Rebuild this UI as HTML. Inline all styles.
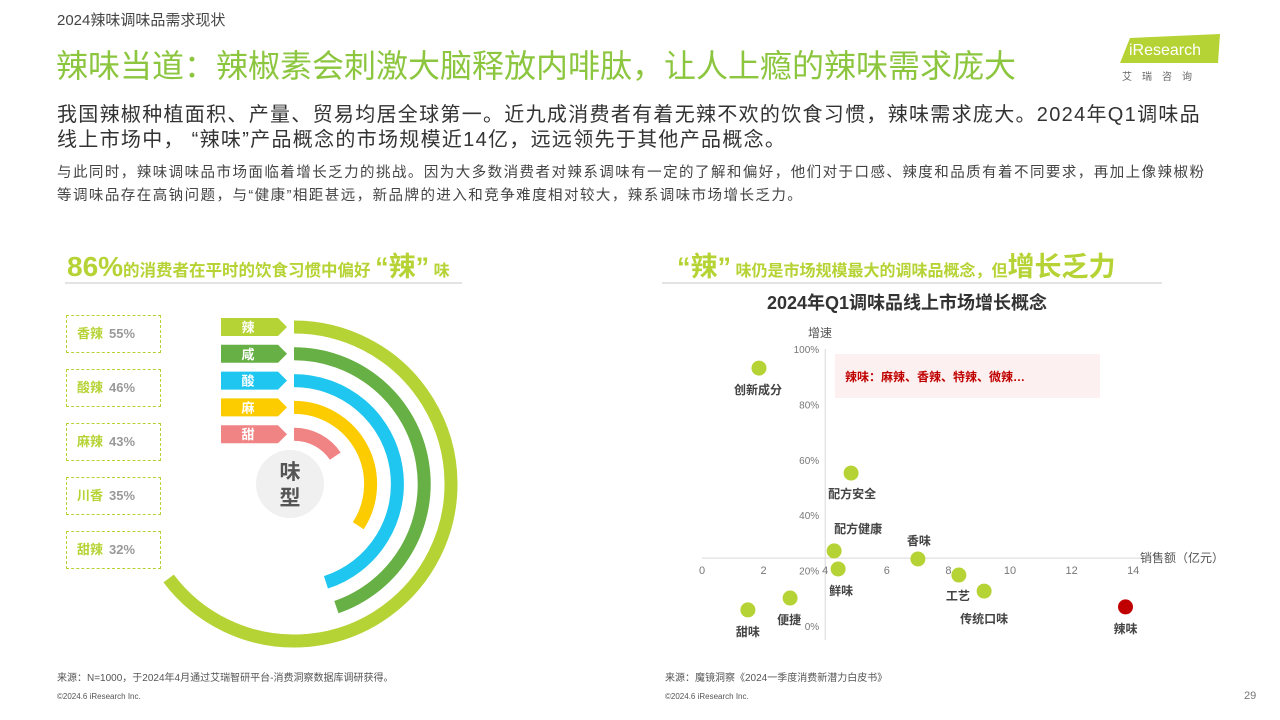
<!DOCTYPE html>
<html><head><meta charset="utf-8">
<style>
*{margin:0;padding:0;box-sizing:border-box}
body{width:1280px;height:720px;background:#fff;position:relative;overflow:hidden;font-family:"Liberation Sans","Noto Sans CJK SC",sans-serif;color:#333}
.a{position:absolute;white-space:nowrap}
.box{position:absolute;left:66px;width:95px;height:38px;border:1.5px dashed #b5d334;font-size:13px;font-weight:bold;line-height:35px;padding-left:10px}
.box .n{color:#b5d334}.box .v{color:#999;margin-left:6px}
</style></head><body>
<div class="a" style="left:57px;top:9px;font-size:15px;color:#444">2024辣味调味品需求现状</div>
<div class="a" style="left:56px;top:41px;font-size:32px;color:#8cc63f;letter-spacing:0px">辣味当道：辣椒素会刺激大脑释放内啡肽，让人上瘾的辣味需求庞大</div>
<div style="position:absolute;left:1120px;top:34px;width:100px;height:29px">
<svg width="100" height="29"><polygon points="10,4 100,0 98,29 0,29" fill="#b5d334"/><text x="9" y="21" font-size="16" fill="#fff" font-family="Liberation Sans">iResearch</text></svg></div>
<div class="a" style="left:1122px;top:68px;font-size:10px;color:#666;letter-spacing:10px">艾瑞咨询</div>
<div class="a" style="left:57px;top:103px;font-size:20px;line-height:25px;color:#333;letter-spacing:1.3px">我国辣椒种植面积、产量、贸易均居全球第一。近九成消费者有着无辣不欢的饮食习惯，辣味需求庞大。2024年Q1调味品<br>线上市场中，&nbsp;“辣味”产品概念的市场规模近14亿，远远领先于其他产品概念。</div>
<div class="a" style="left:57px;top:162px;font-size:14.5px;line-height:23px;color:#444;letter-spacing:1.45px">与此同时，辣味调味品市场面临着增长乏力的挑战。因为大多数消费者对辣系调味有一定的了解和偏好，他们对于口感、辣度和品质有着不同要求，再加上像辣椒粉<br>等调味品存在高钠问题，与“健康”相距甚远，新品牌的进入和竞争难度相对较大，辣系调味市场增长乏力。</div>

<div class="a" style="left:67px;top:245px;color:#b5d334;font-weight:bold"><span style="font-size:28px">86%</span><span style="font-size:16.5px">的消费者在平时的饮食习惯中偏好 </span><span style="font-size:27px">“辣”</span><span style="font-size:16px"> 味</span></div>
<div class="a" style="left:65px;top:282px;width:397px;height:2px;background:#e3e3e3"></div>
<div class="a" style="left:677px;top:245px;color:#b5d334;font-weight:bold"><span style="font-size:27px">“辣”</span><span style="font-size:16px"> 味仍是市场规模最大的调味品概念，但</span><span style="font-size:27px">增长乏力</span></div>
<div class="a" style="left:662px;top:282px;width:500px;height:2px;background:#e3e3e3"></div>

<div class="box" style="top:315px"><span class="n">香辣</span><span class="v">55%</span></div>
<div class="box" style="top:369px"><span class="n">酸辣</span><span class="v">46%</span></div>
<div class="box" style="top:423px"><span class="n">麻辣</span><span class="v">43%</span></div>
<div class="box" style="top:477px"><span class="n">川香</span><span class="v">35%</span></div>
<div class="box" style="top:531px"><span class="n">甜辣</span><span class="v">32%</span></div>

<svg id="radial" style="position:absolute;left:0;top:0" width="640" height="660"></svg>

<div class="a" style="left:767px;top:289px;font-size:18px;font-weight:bold;color:#333">2024年Q1调味品线上市场增长概念</div>
<svg id="scatter" style="position:absolute;left:0;top:0" width="1280" height="720"></svg>

<div class="a" style="left:57px;top:669px;font-size:10px;color:#555">来源：N=1000，于2024年4月通过艾瑞智研平台-消费洞察数据库调研获得。</div>
<div class="a" style="left:665px;top:669px;font-size:10px;color:#555">来源：魔镜洞察《2024一季度消费新潜力白皮书》</div>
<div class="a" style="left:57px;top:692px;font-size:8px;color:#555">©2024.6 iResearch Inc.</div>
<div class="a" style="left:665px;top:692px;font-size:8px;color:#555">©2024.6 iResearch Inc.</div>
<div class="a" style="left:1244px;top:690px;font-size:11px;color:#777">29</div>

<script>
// Radial flavor chart data
const flavors = ["辣","咸","酸","麻","甜"];
const sweepDeg = [233,161,162,123,56];
const colors = ["#b5d334","#66b045","#1fc6ef","#fccc00","#f08484"];
const NS="http://www.w3.org/2000/svg";
const rs=document.getElementById('radial');
const cx=290,cy=484,r0=157,dr=26.8,sw=13;
function mk(t,a,p){const e=document.createElementNS(NS,t);for(const k in a)e.setAttribute(k,a[k]);(p||rs).appendChild(e);return e;}
flavors.forEach((f,i)=>{
  const r=r0-i*dr, a=sweepDeg[i]*Math.PI/180;
  const x0=cx+4, y0=cy-r, x1=cx+4+r*Math.sin(a), y1=cy-r*Math.cos(a);
  const p=mk('path',{d:`M${x0},${y0} A${r},${r} 0 ${sweepDeg[i]>180?1:0} 1 ${x1},${y1}`,fill:'none',stroke:colors[i],'stroke-width':sw});
  
  
  const ty=y0-9;
  const tag=mk('polygon',{points:`221,${ty} 278,${ty} 287,${ty+9} 278,${ty+18} 221,${ty+18}`,fill:colors[i]});
  
  
  const t=mk('text',{x:248,y:ty+14,'text-anchor':'middle','font-size':13,'font-weight':'bold',fill:'#fff'});
  t.textContent=f;
  
  
});
const c=mk('circle',{cx:cx,cy:cy,r:34,fill:'#f0f0f0'});


["味","型"].forEach((ch,i)=>{const t=mk('text',{x:cx,y:cy-5+i*26,'text-anchor':'middle','font-size':21,'font-weight':'bold',fill:'#555'});t.textContent=ch;

});

// Scatter data
const names=["创新成分","配方安全","配方健康","香味","鲜味","工艺","传统口味","便捷","甜味","辣味"];
const sales=[1.85,4.84,4.29,7.01,4.42,8.34,9.16,2.86,1.49,13.75];
const growth=[93.1,55.2,27.1,24.2,20.6,18.4,12.6,10.1,5.8,6.9];
const xTicks=[0,2,4,6,8,10,12,14];
const yTicks=[0,20,40,60,80,100];
const ss=document.getElementById('scatter');
const X=v=>702+v*30.8, Y=v=>626-v*2.77;
function sk(t,a){return mk(t,a,ss);}
const bg=sk('rect',{x:835,y:354,width:265,height:44,fill:'#fdf0f0'});


const ct=sk('text',{x:845,y:381,'font-size':12,'font-weight':'bold',fill:'#c00000'});ct.textContent="辣味：麻辣、香辣、特辣、微辣…";


const xAxisY=Y(24.5);
const xa=sk('line',{x1:X(0),x2:X(14)+8,y1:xAxisY,y2:xAxisY,stroke:'#d9d9d9','stroke-width':1});


const ya=sk('line',{x1:X(4),x2:X(4),y1:Y(100),y2:Y(-5),stroke:'#d9d9d9','stroke-width':1});


xTicks.forEach(v=>{const t=sk('text',{x:X(v),y:xAxisY+16,'text-anchor':'middle','font-size':11,fill:'#777'});t.textContent=v;

});
yTicks.forEach(v=>{const t=sk('text',{x:X(4)-6,y:Y(v)+4,'text-anchor':'end','font-size':10,fill:'#777'});t.textContent=v+'%';

});
const xt=sk('text',{x:1140,y:562,'font-size':12,fill:'#555'});xt.textContent="销售额（亿元）";


const yt=sk('text',{x:808,y:337,'font-size':12,fill:'#555'});yt.textContent="增速";


const lblOff=[[-1,26],[1,25],[24,-18],[1,-14],[3,26],[-1,25],[0,32],[-1,26],[0,26],[0,26]];
names.forEach((n,i)=>{
  const px=X(sales[i]),py=Y(growth[i]);
  const d=sk('circle',{cx:px,cy:py,r:7.5,fill:n==="辣味"?'#c00000':'#b5d334'});
  
  
  const t=sk('text',{x:px+lblOff[i][0],y:py+lblOff[i][1],'text-anchor':'middle','font-size':12,'font-weight':'bold',fill:'#444'});t.textContent=n;
  
  
});
</script>
</body></html>
